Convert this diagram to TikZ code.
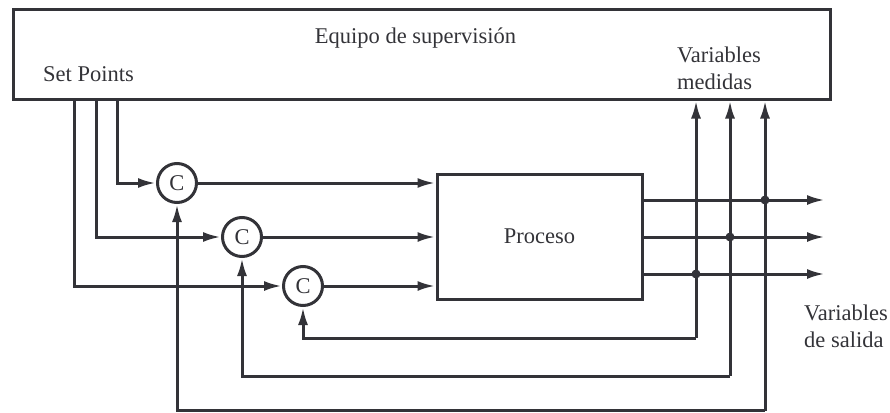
\documentclass[tikz,border=0pt]{standalone}
\usepackage{fontspec}
\setmainfont{Liberation Serif}
\usetikzlibrary{arrows.meta}
\definecolor{ink}{HTML}{333338}
\begin{document}
\begin{tikzpicture}[x=1pt,y=-1pt,
  every node/.style={text=ink, font=\fontsize{22.5}{27}\selectfont},
  wire/.style={draw=ink, line width=3pt},
  arr/.style={wire, -{Latex[length=18pt,width=10pt]}},
  block/.style={draw=ink, line width=3pt, rectangle, inner sep=0pt},
  ctrl/.style={draw=ink, line width=3pt, circle, minimum size=39pt, inner sep=0pt},
  dot/.style={circle, fill=ink, minimum size=9pt, inner sep=0pt}]
\useasboundingbox (0,0) rectangle (890,412);

% supervision unit and process
\node[block, minimum width=817pt, minimum height=89pt] (sup) at (421.5,54.5) {};
\node (suplbl) at (415.5,38) {Equipo de supervisión};
\node (splbl) at (88.5,74) {Set Points};
\node[align=left] (mvlbl) at (719,68.5) {Variables\\medidas};
\node[block, minimum width=205pt, minimum height=125pt] (proc) at (539.5,236.5) {Proceso};
\node[align=left] (outlbl) at (846,326) {Variables\\de salida};

% controllers
\node[ctrl] (c1) at (177,183) {C};
\node[ctrl] (c2) at (242,237) {C};
\node[ctrl] (c3) at (303,286) {C};

% set point taps on the supervision unit
\coordinate (sp1) at (117,99);
\coordinate (sp2) at (96,99);
\coordinate (sp3) at (74,99);

% set points to controllers
\draw[arr] (sp1) |- (c1.west);
\draw[arr] (sp2) |- (c2.west);
\draw[arr] (sp3) |- (c3.west);

% controller outputs into the process
\draw[arr] (c1.east) -- (proc.west |- c1);
\draw[arr] (c2.east) -- (proc.west |- c2);
\draw[arr] (c3.east) -- (proc.west |- c3);

% process outputs
\coordinate (o1) at (825,200);
\coordinate (o2) at (825,237);
\coordinate (o3) at (825,274);
\draw[arr] (proc.east |- o1) -- (o1);
\draw[arr] (proc.east |- o2) -- (o2);
\draw[arr] (proc.east |- o3) -- (o3);

% measurement taps
\node[dot] (m1) at (765,200) {};
\node[dot] (m2) at (730,237) {};
\node[dot] (m3) at (696,274) {};
\coordinate (b1) at (765,410.5);
\coordinate (b2) at (730,376);
\coordinate (b3) at (696,338);

% measured variables back to the supervision unit
\draw[arr] (b1) -- (sup.south -| b1);
\draw[arr] (b2) -- (sup.south -| b2);
\draw[arr] (b3) -- (sup.south -| b3);

% feedback to controllers
\draw[arr] (b1) -| (c1.south);
\draw[arr] (b2) -| (c2.south);
\draw[arr] (b3) -| (c3.south);
\end{tikzpicture}
\end{document}
